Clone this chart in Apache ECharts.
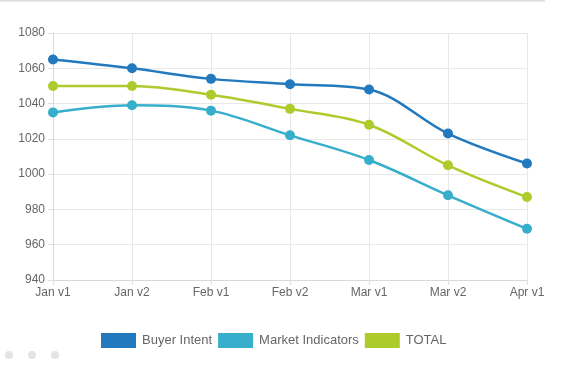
<!DOCTYPE html>
<html><head><meta charset="utf-8">
<script src="https://cdn.jsdelivr.net/npm/echarts@6/dist/echarts.min.js"></script>
<style>html,body{margin:0;padding:0;background:#fff}#c{width:576px;height:372px}</style>
</head><body><div id="c"></div>
<script>
const categories = ['Jan v1','Jan v2','Feb v1','Feb v2','Mar v1','Mar v2','Apr v1'];
const buyerIntent = [1065,1060,1054,1051,1048,1023,1006];
const marketIndicators = [1035,1039,1036,1022,1008,988,969];
const total = [1050,1050,1045,1037,1028,1005,987];
const seriesNames = ['Buyer Intent','Market Indicators','TOTAL'];
const colors = ['#2279bd','#37aecb','#aecb2d'];

const chart = echarts.init(document.getElementById('c'), null, {renderer:'canvas'});
const mk = (name, data, color) => ({
  name, type:'line', data, smooth:0.35, symbol:'circle', symbolSize:10,
  lineStyle:{width:2.5,color}, itemStyle:{color}, z:3
});
chart.setOption({
  animation:false,
  textStyle:{fontFamily:'Liberation Sans, Arial, sans-serif'},
  color:colors,
  grid:{left:53,right:49,top:33,bottom:92},
  legend:{
    top:333, left:101, itemWidth:35, itemHeight:15, itemGap:6,
    icon:'rect', data:seriesNames, padding:0,
    textStyle:{fontSize:13,color:'#666',padding:[0,0,0,1],fontFamily:'Liberation Sans, Arial, sans-serif'}
  },
  xAxis:{
    type:'category', data:categories, boundaryGap:false,
    axisLine:{lineStyle:{color:'#d9d9d9'}},
    axisTick:{show:true,length:5,lineStyle:{color:'#e0e0e0'}},
    axisLabel:{color:'#666',fontSize:12,margin:7},
    splitLine:{show:true,lineStyle:{color:'#e8e8e8'}}
  },
  yAxis:{
    type:'value', min:940, max:1080, interval:20,
    axisLine:{show:true,lineStyle:{color:'#d9d9d9'}},
    axisTick:{show:true,length:5,lineStyle:{color:'#e0e0e0'}},
    axisLabel:{color:'#666',fontSize:12,margin:8,formatter:v=>String(v)},
    splitLine:{show:true,lineStyle:{color:'#e8e8e8'}}
  },
  graphic:[
    {type:'rect',shape:{x:0,y:0,width:545,height:1.5},style:{fill:'#dcdcdc'},silent:true},
    {type:'circle',shape:{cx:9,cy:355,r:4},style:{fill:'#e3e3e3'},silent:true},
    {type:'circle',shape:{cx:32,cy:355,r:4},style:{fill:'#e3e3e3'},silent:true},
    {type:'circle',shape:{cx:55,cy:355,r:4},style:{fill:'#e3e3e3'},silent:true}
  ],
  series:[mk(seriesNames[0],buyerIntent,colors[0]),mk(seriesNames[1],marketIndicators,colors[1]),mk(seriesNames[2],total,colors[2])]
});
</script></body></html>
